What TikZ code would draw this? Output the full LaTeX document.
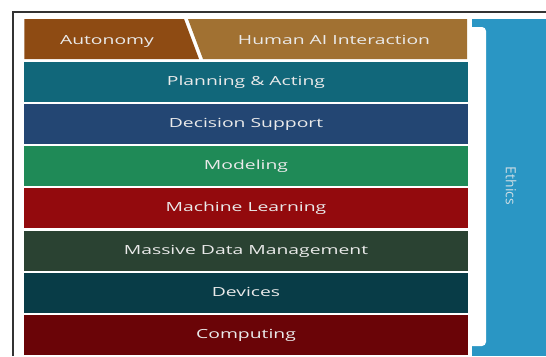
\documentclass[tikz,border=0pt]{standalone}
\usepackage{graphicx}
\usepackage{fontspec}
\setmainfont{Open Sans}
\newfontfamily\lblfont[FakeStretch=1.54]{Open Sans}
\definecolor{cAut}{HTML}{8E4B13}
\definecolor{cHum}{HTML}{A17132}
\definecolor{cPlan}{HTML}{11677A}
\definecolor{cDec}{HTML}{234673}
\definecolor{cMod}{HTML}{1F8A57}
\definecolor{cML}{HTML}{930A0D}
\definecolor{cMDM}{HTML}{2A4232}
\definecolor{cDev}{HTML}{083C47}
\definecolor{cComp}{HTML}{6A0407}
\definecolor{cEth}{HTML}{2A96C4}
\definecolor{cTxt}{HTML}{EAEAEA}
\definecolor{cFrame}{HTML}{333333}
\tikzset{
  layer/.style={minimum width=443bp, minimum height=40bp, inner sep=0pt, anchor=north west, text=cTxt, text height=9bp, text depth=2bp, font=\lblfont\fontsize{12.6}{14}\selectfont},
  lbl/.style={text=cTxt, text height=9bp, text depth=2bp, font=\lblfont\fontsize{12.6}{14}\selectfont, inner sep=0pt}
}
\begin{document}
\begin{tikzpicture}[x=1bp,y=-1bp]
\useasboundingbox (0,0) rectangle (546,356);
\fill[white] (0,0) rectangle (546,356);
% frame
\draw[cFrame, line width=2bp] (13,356) -- (13,12) -- (546,12);
% top row split
\fill[cAut] (24.3,19) -- (184,19) -- (199,59) -- (24.3,59) -- cycle;
\fill[cHum] (188,19) -- (467,19) -- (467,59) -- (203,59) -- cycle;
\node[lbl] (aut) at (107,40.5) {Autonomy};
\node[lbl] (hum) at (334,40.5) {Human AI Interaction};
% layers
\node[layer, fill=cPlan] (plan) at (24.3,61.3) {Planning \& Acting};
\node[layer, fill=cDec] (dec) at (24.3,103.6) {Decision Support};
\node[layer, fill=cMod] (mod) at (24.3,145.9) {Modeling};
\node[layer, fill=cML] (ml) at (24.3,188.2) {Machine Learning};
\node[layer, fill=cMDM] (mdm) at (24.3,230.5) {Massive Data Management};
\node[layer, fill=cDev] (dev) at (24.3,272.8) {Devices};
\node[layer, fill=cComp] (comp) at (24.3,315.1) {Computing};
% ethics bracket
\fill[cEth] (472,19) rectangle (546,356);
\fill[white, rounded corners=4bp] (470,27) -- (486,27) -- (486,346) -- (470,346);
\node[rotate=-90, inner sep=0pt, text=cTxt!85!cEth, font=\fontsize{14}{16}\selectfont] (eth) at (511,186) {Ethics};
\end{tikzpicture}
\end{document}
